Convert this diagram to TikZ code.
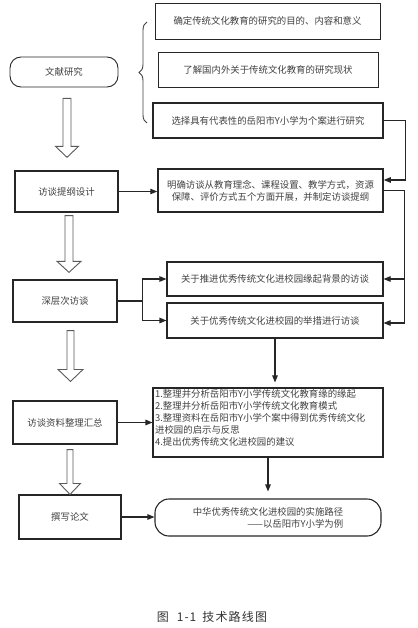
\documentclass[tikz,border=0pt]{standalone}
\usepackage{fontspec}
\setmainfont{Noto Sans CJK SC}
\usetikzlibrary{arrows.meta,calc,decorations.pathreplacing}
\newcommand\harrow[6]{% #1 start, #2 target anchor, #3 gap, #4 shaft half, #5 head half, #6 head length
  \path (#1) coordinate (hA);
  \path ($(hA |- #2)+(0,-#3)$) coordinate (hB);
  \draw[hollow] ($(hA)+(-#4,0)$) -- ($(hB)+(-#4,-#6)$) -- ($(hB)+(-#5,-#6)$) -- (hB)
    -- ($(hB)+(#5,-#6)$) -- ($(hB)+(#4,-#6)$) -- ($(hA)+(#4,0)$) -- cycle;}
\begin{document}
\begin{tikzpicture}[x=1pt,y=-1pt,
  box/.style={draw=black!85,line width=0.9pt,text=black!75,
    font=\fontsize{9.4}{12}\selectfont,inner sep=1pt,align=center},
  boldbox/.style={box,line width=1.5pt},
  roundbox/.style={box,rounded corners=#1},
  txt/.style={text=black!75,font=\fontsize{9.4}{12}\selectfont,inner sep=1pt},
  conn/.style={draw=black!85,line width=1.1pt},
  arr/.style={conn,-{Triangle[length=7pt,width=5.5pt]}},
  hollow/.style={draw=black!65,fill=white,line width=0.9pt},
  bracestyle/.style={draw=black!75,line width=0.9pt}
]
\useasboundingbox (0,0) rectangle (417,628);

% left column
\node[roundbox=11pt,minimum width=108pt,minimum height=30pt] (lit) at (64,72) {文献研究};
\node[box,line width=1.3pt,minimum width=103pt,minimum height=41pt] (design) at (66.5,191.5) {访谈提纲设计};
\node[box,line width=1.3pt,minimum width=104pt,minimum height=42pt] (deep) at (65,301) {深层次访谈};
\node[box,line width=1.1pt,minimum width=104pt,minimum height=43pt] (summ) at (65,422.5) {访谈资料整理汇总};
\node[box,line width=1.1pt,minimum width=102pt,minimum height=44pt] (write) at (70,517) {撰写论文};

% right column
\node[box,minimum width=225pt,minimum height=36pt] (b1) at (267.5,21) {确定传统文化教育的研究的目的、内容和意义};
\node[box,minimum width=220pt,minimum height=35pt] (b2) at (268,69.5) {了解国内外关于传统文化教育的研究现状};
\node[boldbox,minimum width=230pt,minimum height=35pt] (b3) at (268,120.5) {选择具有代表性的岳阳市Y小学为个案进行研究};
\node[boldbox,minimum width=225pt,minimum height=43pt] (b4) at (270.5,190.5) {明确访谈从教育理念、课程设置、教学方式，资源\\保障、评价方式五个方面开展，并制定访谈提纲};
\node[box,line width=1.1pt,minimum width=216pt,minimum height=34pt] (b5) at (275,279) {关于推进优秀传统文化进校园缘起背景的访谈};
\node[box,line width=1.1pt,minimum width=216pt,minimum height=35pt] (b6) at (275,320.5) {关于优秀传统文化进校园的举措进行访谈};
\node[box,line width=1.1pt,minimum width=230pt,minimum height=69pt] (b7) at (268,422.5) {};
\node[txt,anchor=north west,align=left] (b7t) at ($(b7.north west)+(1.5,1)$) {1.整理并分析岳阳市Y小学传统文化教育缘的缘起\\2.整理并分析岳阳市Y小学传统文化教育模式\\3.整理资料在岳阳市Y小学个案中得到优秀传统文化\\进校园的启示与反思\\4.提出优秀传统文化进校园的建议};
\node[roundbox=14pt,line width=1.1pt,minimum width=226pt,minimum height=37pt,align=right] (final) at (268,517.5) {中华优秀传统文化进校园的实施路径\\——以岳阳市Y小学为例};

% brace
\draw[bracestyle,decorate,decoration={brace,amplitude=8pt}] (147,123) -- (147,22);

% hollow arrows
\harrow{$(lit.south)+(3,11)$}{design.north}{13}{4}{11.5}{11}
\harrow{$(design.south)+(2.5,3)$}{deep.north}{7}{4}{12}{11}
\harrow{$(deep.south)+(5.5,8)$}{summ.north}{19}{3.5}{12.5}{12}
\harrow{$(summ.south)+(5,5)$}{write.north}{0}{3}{10.5}{11}

% connectors
\draw[arr] (b3.east) -- ++(22,0) |- ($(b4.east)+(0,-10.5)$);
\draw[arr] (b4.east) -- ++(21,0) coordinate (rj) |- ($(b6.east)+(0,2.5)$);
\draw[arr] (rj |- b5.east) -- (b5.east);
\draw[arr] (design.east) -- (design.east -| b4.west);
\draw[conn] (deep.east) -- ++(25,0) coordinate (sp);
\draw[arr] (sp) |- (b5.west);
\draw[arr] (sp) |- (b6.west);
\draw[arr,shorten >=5pt] (b6.south) -- (b6.south |- b7.north);
\draw[arr] (summ.east) -- (summ.east -| b7.west);
\draw[arr,shorten >=7pt] (b7.south) -- (b7.south |- final.north);
\draw[arr] (write.east) -- (write.east -| final.west);

% caption
\node[text=black!80,font=\fontsize{12}{14}\selectfont,inner sep=0pt] (cap) at (212,617) {图\hspace{8pt}1\kern1pt-\kern1pt1\hspace{6pt}技\kern1.2pt 术\kern1.2pt 路\kern1.2pt 线\kern1.2pt 图};
\end{tikzpicture}
\end{document}
